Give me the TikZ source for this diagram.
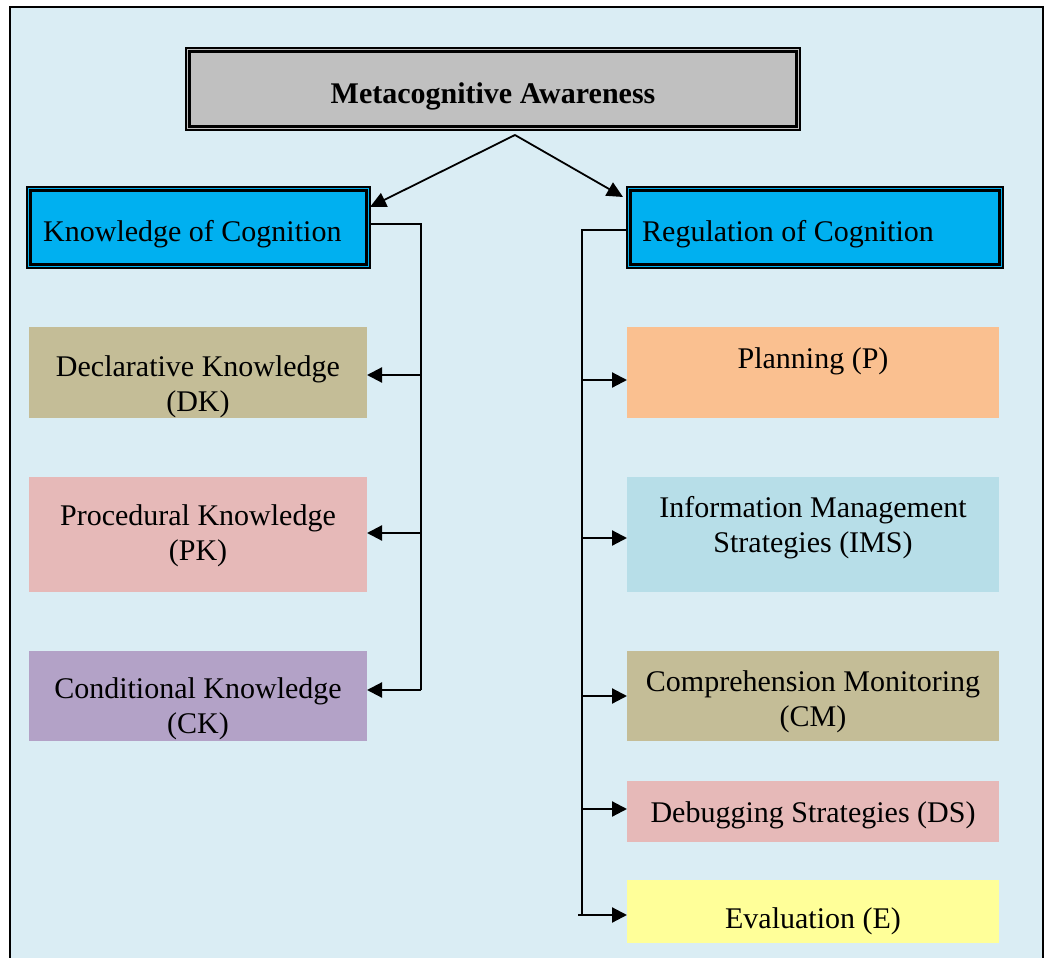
\documentclass[tikz,border=0pt]{standalone}
\usepackage{fontspec}
\setmainfont{Liberation Serif}
\usetikzlibrary{arrows.meta}
\definecolor{bgc}{HTML}{DAEDF4}
\definecolor{graybox}{HTML}{C0C0C0}
\definecolor{bluebox}{HTML}{00B0F0}
\definecolor{tanbox}{HTML}{C4BD97}
\definecolor{pinkbox}{HTML}{E6B9B8}
\definecolor{purplebox}{HTML}{B3A2C7}
\definecolor{orangebox}{HTML}{FAC090}
\definecolor{lbluebox}{HTML}{B7DEE8}
\definecolor{yellowbox}{HTML}{FFFF99}
\newcommand\dblframe[1]{%
  \draw[line width=1.2pt] (#1.north west) rectangle (#1.south east);
  \draw[line width=2.8pt] ([shift={(3.2,3.2)}]#1.north west) rectangle ([shift={(-3.2,-3.2)}]#1.south east);}
\begin{document}
\begin{tikzpicture}[x=1pt,y=-1pt,
  every node/.style={font=\fontsize{30}{35}\selectfont},
  boxn/.style={anchor=north west, inner sep=0pt, outer sep=0pt, draw=none},
  txt/.style={inner sep=0pt, align=center},
  conn/.style={line width=2.2pt},
  arr/.style={line width=2.2pt, -{Triangle[length=15pt,width=15pt]}},
  diag/.style={line width=1.8pt, -{Triangle[length=16pt,width=15pt]}}]
\useasboundingbox (0,0) rectangle (1045,958);
\fill[bgc] (10,7) rectangle (1043,965);
\draw[line width=2pt] (10,965) -- (10,7) -- (1043,7) -- (1043,965);

% main box
\node[boxn, fill=graybox, minimum width=614pt, minimum height=82pt] (ma) at (186,48) {};
\dblframe{ma}
\node[anchor=base, inner sep=0pt, font=\fontsize{30}{35}\selectfont\bfseries] (mat) at (493,103) {Metacognitive Awareness};

% level 2
\node[boxn, fill=bluebox, minimum width=343pt, minimum height=81pt] (kc) at (27,187) {};
\dblframe{kc}
\node[anchor=base west, inner sep=0pt] (kct) at (43,241) {Knowledge of Cognition};
\node[boxn, fill=bluebox, minimum width=376pt, minimum height=81pt] (rc) at (627,187) {};
\dblframe{rc}
\node[anchor=base west, inner sep=0pt] (rct) at (642,241) {Regulation of Cognition};

% left column
\node[boxn, fill=tanbox, minimum width=338pt, minimum height=91pt] (dk) at (29,327) {};
\node[txt] (dkt) at (198,387) {Declarative Knowledge\\(DK)};
\node[boxn, fill=pinkbox, minimum width=338pt, minimum height=115pt] (pk) at (29,477) {};
\node[txt] (pkt) at (198,536) {Procedural Knowledge\\(PK)};
\node[boxn, fill=purplebox, minimum width=338pt, minimum height=90pt] (ck) at (29,651) {};
\node[txt] (ckt) at (198,709) {Conditional Knowledge\\(CK)};

% right column
\node[boxn, fill=orangebox, minimum width=372pt, minimum height=91pt] (pl) at (627,327) {};
\node[anchor=base, inner sep=0pt] (plt) at (813,368) {Planning (P)};
\node[boxn, fill=lbluebox, minimum width=372pt, minimum height=115pt] (im) at (627,477) {};
\node[txt] (imt) at (813,528) {Information Management\\Strategies (IMS)};
\node[boxn, fill=tanbox, minimum width=372pt, minimum height=90pt] (cm) at (627,651) {};
\node[txt] (cmt) at (813,702) {Comprehension Monitoring\\(CM)};
\node[boxn, fill=pinkbox, minimum width=372pt, minimum height=61pt] (ds) at (627,781) {};
\node[anchor=base, inner sep=0pt] (dst) at (813,822) {Debugging Strategies (DS)};
\node[boxn, fill=yellowbox, minimum width=372pt, minimum height=63pt] (ev) at (627,880) {};
\node[anchor=base, inner sep=0pt] (evt) at (813,928.5) {Evaluation (E)};

% top connectors
\coordinate (apex) at (515,135);
\draw[diag] (apex) -- ([yshift=-20pt]kc.north east);
\draw[diag] (apex) -- ([shift={(-4pt,-10pt)}]rc.north west);

% left tree
\coordinate (lt) at (421,224);
\coordinate (lb) at (421,690);
\coordinate (l1) at (421,375);
\coordinate (l2) at (421,533);
\draw[conn] (kc.east |- lt) -- (lt) -- (lb);
\draw[arr] (l1) -- (dk.east |- l1);
\draw[arr] (l2) -- (pk.east |- l2);
\draw[arr] (lb) -- (ck.east |- lb);

% right tree
\coordinate (rt) at (582,230);
\coordinate (rb) at (582,915);
\coordinate (r1) at (582,380);
\coordinate (r2) at (582,538);
\coordinate (r3) at (582,696);
\coordinate (r4) at (582,809);
\coordinate (r5) at (578,915);
\draw[conn] (rc.west |- rt) -- (rt) -- (rb);
\draw[arr] (r1) -- (pl.west |- r1);
\draw[arr] (r2) -- (im.west |- r2);
\draw[arr] (r3) -- (cm.west |- r3);
\draw[arr] (r4) -- (ds.west |- r4);
\draw[arr] (r5) -- (ev.west |- r5);
\end{tikzpicture}
\end{document}
